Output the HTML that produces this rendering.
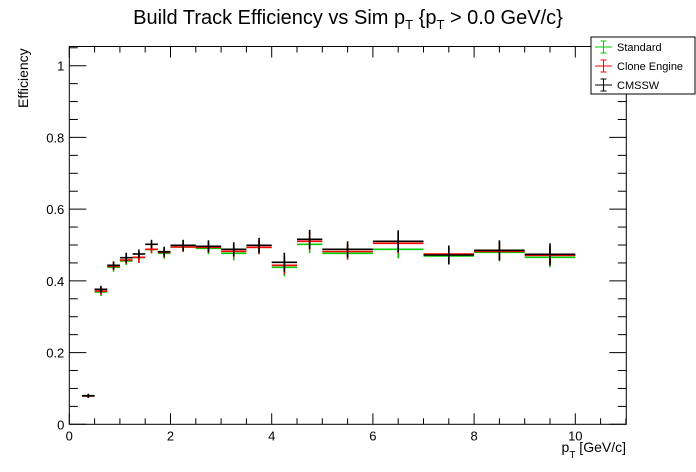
<!DOCTYPE html>
<html><head><meta charset="utf-8"><style>
html,body{margin:0;padding:0;background:#fff;}
svg{display:block;font-family:"Liberation Sans",Arial,sans-serif;}
</style></head><body>
<svg id="s" width="696" height="472" viewBox="0 0 696 472" xmlns="http://www.w3.org/2000/svg">
<rect width="696" height="472" fill="#fff"/>
<text x="348" y="24" font-size="20" text-anchor="middle">Build Track Efficiency vs Sim p<tspan font-size="13" dy="5">T</tspan><tspan dy="-5"> {p</tspan><tspan font-size="13" dy="5">T</tspan><tspan dy="-5"> &gt; 0.0 GeV/c}</tspan></text>
<text transform="translate(28,108) rotate(-90)" font-size="14">Efficiency</text>
<text x="626" y="452" font-size="14" text-anchor="end">p<tspan font-size="10" dy="6">T</tspan><tspan dy="-6"> [GeV/c]</tspan></text>
<g id="g"></g>
</svg>
<script>
var X0=69.3,XS=50.6,Y0=424.3,YS=358.6,TOP=46.5,RIGHT=626.3;
function X(v){return X0+v*XS;}function Y(v){return Y0-v*YS;}
var h='';
function L(x1,y1,x2,y2,c,w){h+='<line x1="'+x1+'" y1="'+y1+'" x2="'+x2+'" y2="'+y2+'" stroke="'+(c||'#000')+'" stroke-width="'+(w||1)+'"/>';}
function T(x,y,s,a){h+='<text x="'+x+'" y="'+y+'" font-size="13" text-anchor="'+a+'">'+s+'</text>';}
h+='<rect x="'+X0+'" y="'+TOP+'" width="'+(RIGHT-X0)+'" height="'+(Y0-TOP)+'" fill="none" stroke="#000" stroke-width="1"/>';
for(var i=0;i<=22;i++){var v=i*0.5,x=X(v);var maj=(i%4==0);var l=maj?11:6;L(x,Y0,x,Y0-l);L(x,TOP,x,TOP+l);if(maj)T(x,Y0+16,v,'middle');}
for(var i=0;i<=21;i++){var v=i*0.05,y=Y(v);if(y<TOP)continue;var maj=(i%4==0);var l=maj?17:8.5;L(X0,y,X0+l,y);L(RIGHT,y,RIGHT-l,y);if(maj)T(X0-5,y+5,(v==0?'0':(v==1?'1':v.toFixed(1))),'end');}
var bins=[[0.25,0.5],[0.5,0.75],[0.75,1],[1,1.25],[1.25,1.5],[1.5,1.75],[1.75,2],[2,2.5],[2.5,3],[3,3.5],[3.5,4],[4,4.5],[4.5,5],[5,6],[6,7],[7,8],[8,9],[9,10]];
var d=[[396,396,395.7,2,2,2],[292,291,289.3,4,4,3.5],[267.3,266.3,265.3,4.5,4,4],[261,260,257.7,4,4,5],[257.5,257.3,254,5.5,5.5,4.5],[249.5,249.3,244.3,4,4,4.5],[253.3,252.3,251.7,5.5,5,5],[247,247,245.3,5,5,5.5],[248.3,247.3,246.3,6,5.5,6],[253.3,251.3,249.3,7,6,7],[247.3,247.3,245.3,7,7,7.5],[267.3,265.3,262.3,9,9,9.5],[244.3,241.3,239.3,9,9,9.5],[253.3,251.5,249.3,6.5,8,8],[249.3,243.3,241.3,9,10,11],[256,254,255,8,8,9.5],[252.3,251.3,250.3,9,9,10],[257.3,255.3,254.3,10,10,11]];
var cols=['#00cc00','#ff0000','#000000'];
for(var s=0;s<3;s++){for(var i=0;i<bins.length;i++){var x1=X(bins[i][0]),x2=X(bins[i][1]),xm=(x1+x2)/2,y=d[i][s],e=d[i][3+s];L(x1,y,x2,y,cols[s],1.6);L(xm,y-e,xm,y+e,cols[s],1.6);}}
h+='<rect x="591" y="37" width="104" height="57" fill="#fff" stroke="#000" stroke-width="1"/>';
var ln=[['Standard',cols[0],47],['Clone Engine',cols[1],66],['CMSSW',cols[2],85]];
for(var k=0;k<3;k++){var y=ln[k][2],c=ln[k][1];L(595,y,612,y,c);L(603.5,y-6,603.5,y+6,c);L(600.5,y-6,606.5,y-6,c);L(600.5,y+6,606.5,y+6,c);h+='<text x="617" y="'+(y+4)+'" font-size="11">'+ln[k][0]+'</text>';}
document.getElementById('g').innerHTML=h;
</script>
</body></html>
